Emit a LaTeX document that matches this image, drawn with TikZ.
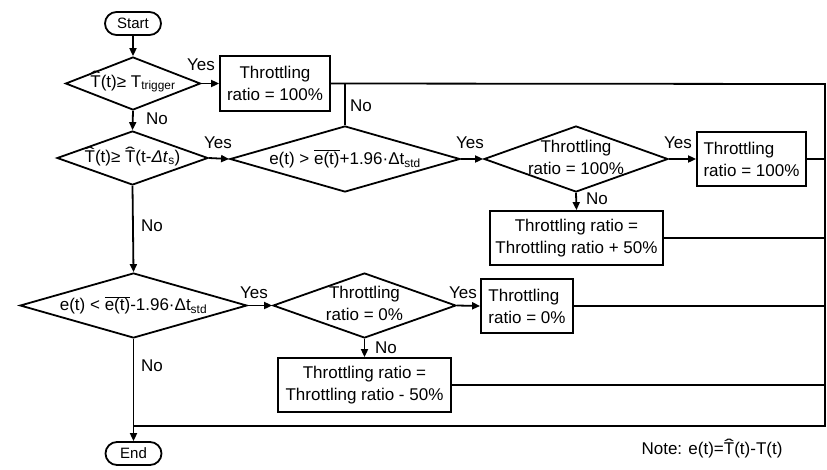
\documentclass[tikz,border=0pt]{standalone}
\usepackage{fontspec}
\usepackage{graphicx}
\setmainfont{Liberation Sans}
\usetikzlibrary{shapes.geometric,arrows.meta}
% T with a wide hat, and the overlined error term
\newcommand\That{{\ooalign{T\cr\hidewidth\raisebox{0.2em}{\scalebox{1.7}[1]{\char"02C6}}\hidewidth\cr}}}
\newcommand\ebar{$\overline{\hbox{e(t)}}$}
\begin{document}
\begin{tikzpicture}[x=1pt,y=-1pt,line width=1.8pt,
  every node/.style={font=\fontsize{17}{22}\selectfont},
  box/.style={draw,rectangle,inner sep=0pt,align=center},
  dia/.style={draw,diamond,inner sep=0pt},
  dtxt/.style={inner sep=0pt,align=center},
  term/.style={draw,rectangle,rounded corners=11.5pt,minimum width=56pt,
    minimum height=23pt,inner sep=0pt,font=\fontsize{15}{18}\selectfont},
  arr/.style={-{Triangle[length=8pt,width=7pt]}},
  lbl/.style={inner sep=0pt}]
\useasboundingbox (0,0) rectangle (827,469);

% terminals
\node[term] (start) at (133,23.5) {Start};
\node[term] (end) at (133.5,453.5) {End};

% decisions: outline first, then the condition text on top
\node[dia,minimum width=135pt,minimum height=53pt] (d1) at (133,83.5) {};
\node[dtxt] (t1) at (d1) {\That(t)≥ T\textsubscript{trigger}};
\node[dia,minimum width=151pt,minimum height=54pt] (d2) at (132.5,158) {};
\node[dtxt] (t2) at (d2) {\That(t)≥ \That(t-\textit{Δt}\textsubscript{s})};
\node[dia,minimum width=230pt,minimum height=66pt] (d3) at (345,159) {};
\node[dtxt] (t3) at (d3) {e(t) > \ebar+1.96·Δt\textsubscript{std}};
\node[dia,minimum width=184pt,minimum height=66pt] (d4) at (576,159) {};
\node[dtxt] (t4) at (576,157) {Throttling\\ratio = 100\%};
\node[dia,minimum width=227pt,minimum height=65pt] (d5) at (133.5,305.5) {};
\node[dtxt] (t5) at (d5) {e(t) < \ebar-1.96·Δt\textsubscript{std}};
\node[dia,minimum width=183pt,minimum height=65pt] (d6) at (364.5,305.5) {};
\node[dtxt] (t6) at (364.5,303.5) {Throttling\\ratio = 0\%};

% actions
\node[box,minimum width=110pt,minimum height=55pt] (b1) at (275,83.5)
  {Throttling\\ratio = 100\%};
\node[box,align=left,minimum width=109pt,minimum height=54pt] (b2) at (751.5,159)
  {Throttling\\ratio = 100\%};
\node[box,minimum width=173pt,minimum height=54pt] (b3) at (576.5,238)
  {Throttling ratio =\\Throttling ratio + 50\%};
\node[box,align=left,minimum width=92pt,minimum height=54pt] (b4) at (527,306)
  {Throttling\\ratio = 0\%};
\node[box,minimum width=173pt,minimum height=54pt] (b5) at (364.5,385)
  {Throttling ratio =\\Throttling ratio - 50\%};

% return bus
\coordinate (tr) at (825,84);
\coordinate (br) at (825,426);
\coordinate (bl) at (133.5,426);

% flow
\draw[arr] (start) -- (d1);
\draw[arr] (d1.east) -- (b1.west);
\draw[arr] (d1.south) -- (d2.north);
\draw[arr] (d2.east) -- (d3.west);
\draw[arr] (d3.east) -- (d4.west);
\draw[arr] (d4.east) -- (b2.west);
\draw[arr] (d4.south) -- (b3.north);
\draw[arr] (d2.south) -- (d5.north);
\draw[arr] (d5.east) -- (d6.west);
\draw[arr] (d6.east) -- (b4.west);
\draw[arr] (d6.south) -- (b5.north);
\draw[arr] (d5.south) -- (end.north);

\draw (b1.east) -- (tr) -- (br) -- (bl);
\draw (d3.north) -- (d3.north |- tr);
\draw (b2.east) -- (b2.east -| tr);
\draw (b3.east) -- (b3.east -| tr);
\draw (b4.east) -- (b4.east -| tr);
\draw (b5.east) -- (b5.east -| tr);

% branch labels
\node[lbl] (y1) at (201,65) {Yes};
\node[lbl] (n1) at (157,119) {No};
\node[lbl] (n3) at (361,106) {No};
\node[lbl] (y2) at (218,143) {Yes};
\node[lbl] (y3) at (470,143) {Yes};
\node[lbl] (y4) at (678,143) {Yes};
\node[lbl] (n4) at (597,199) {No};
\node[lbl] (n2) at (152,226) {No};
\node[lbl] (y5) at (254,293) {Yes};
\node[lbl] (y6) at (463,293) {Yes};
\node[lbl] (n6) at (386,348) {No};
\node[lbl] (n5) at (152,366) {No};

\node[lbl] (note) at (712,450) {Note: e(t)=\That(t)-T(t)};
\end{tikzpicture}
\end{document}
